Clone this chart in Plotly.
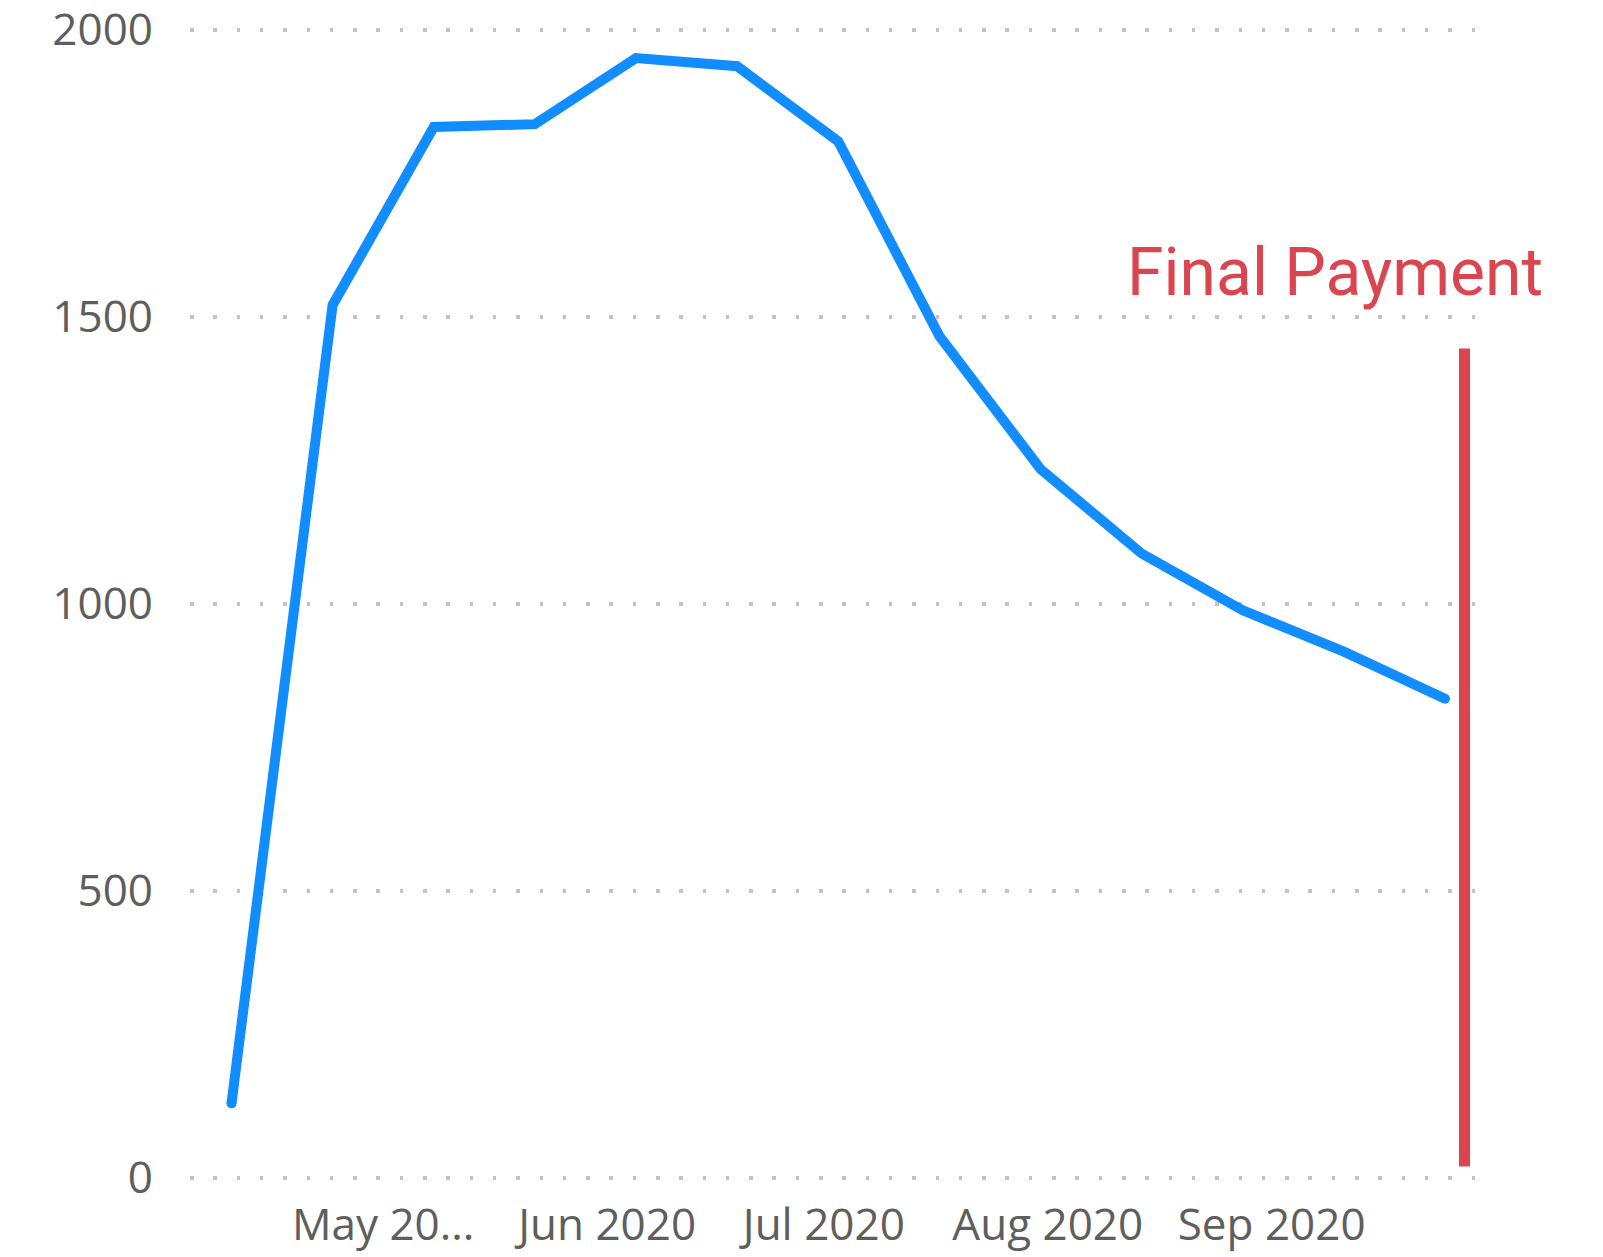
import plotly.graph_objects as go

# ---- data ----
dates = ["2020-04-10", "2020-04-24", "2020-05-08", "2020-05-22", "2020-06-05",
         "2020-06-19", "2020-07-03", "2020-07-17", "2020-07-31", "2020-08-14",
         "2020-08-28", "2020-09-11", "2020-09-25"]
values = [130, 1521, 1831, 1836, 1951, 1937, 1806, 1467, 1235, 1088, 989, 917, 835]

tick_vals = ["2020-05-01", "2020-06-01", "2020-07-01", "2020-08-01", "2020-09-01"]
tick_text = ["May 20...", "Jun 2020", "Jul 2020", "Aug 2020", "Sep 2020"]

y_ticks = [0, 500, 1000, 1500, 2000]

final_payment_date = "2020-09-27 16:50"
final_payment_span = [20, 1445]
final_payment_label = "Final Payment"

x_range = ["2020-04-04 06:07", "2020-09-29 10:20"]
y_range = [-7, 2007]

BLUE = "#118DFF"
RED = "#D9464F"
GREY_TXT = "#605E5C"
GRID = "#C2C2C2"

fig = go.Figure()
fig.add_trace(go.Scatter(
    x=dates, y=values, mode="lines",
    line=dict(color=BLUE, width=10),
    hoverinfo="x+y", showlegend=False,
))
# round line ends
fig.add_trace(go.Scatter(
    x=[dates[0], dates[-1]], y=[values[0], values[-1]], mode="markers",
    marker=dict(color=BLUE, size=10, line=dict(width=0)),
    hoverinfo="skip", showlegend=False,
))

fig.add_shape(type="line", xref="x", yref="y",
              x0=final_payment_date, x1=final_payment_date,
              y0=final_payment_span[0], y1=final_payment_span[1],
              line=dict(color=RED, width=11))

fig.add_annotation(text=final_payment_label, xref="paper", yref="paper",
                   x=0.8893, y=0.7865, xanchor="center", yanchor="middle",
                   showarrow=False,
                   font=dict(family="Roboto", size=66, color=RED))

fig.update_layout(
    width=1603, height=1257,
    margin=dict(l=190, r=126, t=26, b=75, autoexpand=False),
    paper_bgcolor="white", plot_bgcolor="white",
    font=dict(family="Open Sans", color=GREY_TXT),
)
fig.update_xaxes(
    type="date", range=x_range, automargin=False,
    tickvals=tick_vals, ticktext=tick_text,
    showgrid=False, zeroline=False, showline=False,
    ticks="", tickfont=dict(size=44, color=GREY_TXT),
    ticklabelstandoff=13, ticklabeloverflow="allow",
)
fig.update_yaxes(
    range=y_range, tickvals=y_ticks, automargin=False,
    showgrid=True, gridcolor=GRID, gridwidth=3.5, griddash="3.5px,19.8px",
    zeroline=False, showline=False, ticks="",
    tickfont=dict(size=44, color=GREY_TXT),
    ticklabelstandoff=36, ticklabeloverflow="allow",
)

fig.write_html("out.html",
               config={"displayModeBar": False},
               post_script="document.body.style.margin='0';document.body.style.overflow='hidden';")
